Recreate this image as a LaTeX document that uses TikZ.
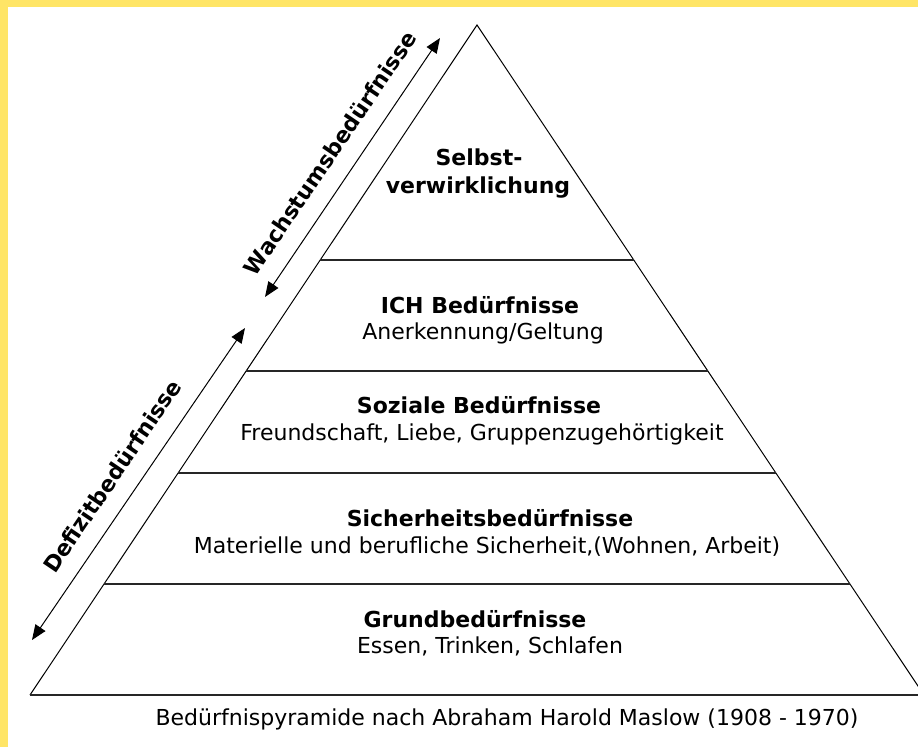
\documentclass[tikz,border=0pt]{standalone}
\usepackage{fontspec}
\setmainfont{DejaVu Sans}
\usetikzlibrary{arrows.meta,calc}
\definecolor{frameyellow}{RGB}{255,229,102}
\begin{document}
\begin{tikzpicture}[x=1pt,y=-1pt,>={Triangle[length=15pt,width=12pt]},
  side/.style={line width=1pt},
  level/.style={line width=2pt,black!85},
  title/.style={anchor=base,inner sep=0pt,font=\fontsize{22}{26}\selectfont\bfseries},
  sub/.style={anchor=base,inner sep=0pt,font=\fontsize{22}{26}\selectfont},
  need/.style={inner sep=0pt,rotate=55.9,font=\fontsize{22}{26}\selectfont\bfseries}]
  \useasboundingbox (0,0) rectangle (918,747);
  \clip (0,0) rectangle (918,747);
  \fill[white] (0,0) rectangle (918,747);
  \fill[frameyellow] (0,0) rectangle (918,7);
  \fill[frameyellow] (0,0) rectangle (8,747);
  % pyramid
  \coordinate (apex) at (477,25);
  \coordinate (bl) at (30,695);
  \coordinate (br) at (924,695);
  \draw[side] (bl) -- (apex) -- (br);
  \draw[level] (bl) -- (br);
  \foreach \t in {0.3507,0.5164,0.6687,0.8343}
    \draw[level] ($(apex)!\t!(bl)$) -- ($(apex)!\t!(br)$);
  % levels
  \node[title] (selbst) at (479,165) {Selbst-};
  \node[title] (verw) at (478,193) {verwirklichung};
  \node[title] (ich) at (480,313) {ICH Bedürfnisse};
  \node[sub] (anerk) at (483,339) {Anerkennung/Geltung};
  \node[title] (sozial) at (479,413) {Soziale Bedürfnisse};
  \node[sub] (freund) at (482,440) {Freundschaft, Liebe, Gruppenzugehörtigkeit};
  \node[title] (sicher) at (490,526) {Sicherheitsbedürfnisse};
  \node[sub] (mater) at (487,553) {Materielle und berufliche Sicherheit,(Wohnen, Arbeit)};
  \node[title] (grund) at (475,627) {Grundbedürfnisse};
  \node[sub] (essen) at (490,653) {Essen, Trinken, Schlafen};
  \node[sub] (caption) at (507,725) {Bedürfnispyramide nach Abraham Harold Maslow (1908 - 1970)};
  % needs arrows
  \coordinate (w1) at (440,38);
  \coordinate (w2) at (265,297);
  \coordinate (d1) at (245,328);
  \coordinate (d2) at (32,640);
  \draw[<->,line width=1pt] (w2) -- (w1);
  \draw[<->,line width=1pt] (d2) -- (d1);
  \node[need] (wachstum) at (330,153) {Wachstumsbedürfnisse};
  \node[need] (defizit) at (112,476) {Defizitbedürfnisse};
\end{tikzpicture}
\end{document}
